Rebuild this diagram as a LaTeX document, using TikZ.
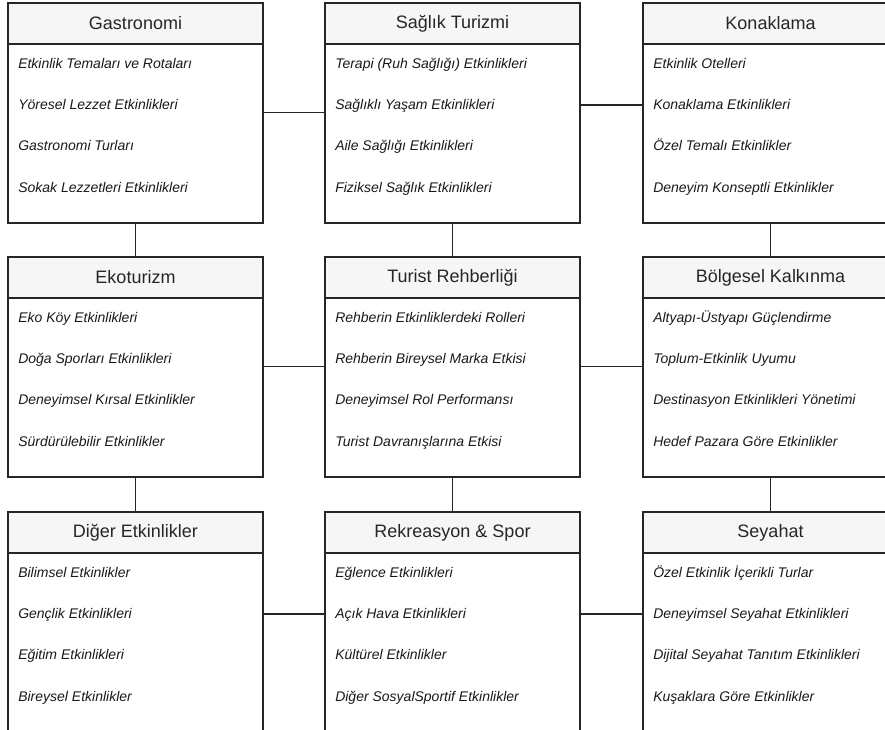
\documentclass[tikz,border=0pt]{standalone}
\usepackage{fontspec}
\setmainfont{Liberation Sans}
\usetikzlibrary{positioning,calc}

\begin{document}
\begin{tikzpicture}[x=0.75pt,y=-0.75pt]
  \tikzset{
    head/.style={draw=black!85, rectangle, fill=gray!7, outer sep=0pt, line width=1pt, minimum width=191.25pt, minimum height=30.75pt, font=\fontsize{13.5}{16}\selectfont, text=black!85},
    body/.style={draw=black!85, rectangle, outer sep=0pt, line width=1pt, minimum width=191.25pt, minimum height=134.25pt},
    item/.style={anchor=west, inner sep=0pt, text height=7.5pt, text depth=2pt, font=\fontsize{10.5}{12}\selectfont\itshape, text=black!90},
    line/.style={draw=black!85, line width=0.8pt},
  }
  \useasboundingbox (0,0) rectangle (885,729);

  % first row
  \node [head] (gas) at (135.5,23.5) {Gastronomi};
  \node [body, below=0pt of gas] (gasb) {};
  \foreach \txt [count=\i] in {Etkinlik Temaları ve Rotaları, Yöresel Lezzet Etkinlikleri, Gastronomi Turları, Sokak Lezzetleri Etkinlikleri}
    \node [item] (gas\i) at ($(gasb.north west)+(10,20.5+41.3*\i-41.3)$) {\txt};

  \node [head] (sag) at (452.5,23.5) {Sağlık Turizmi};
  \node [body, below=0pt of sag] (sagb) {};
  \foreach \txt [count=\i] in {Terapi (Ruh Sağlığı) Etkinlikleri, Sağlıklı Yaşam Etkinlikleri, Aile Sağlığı Etkinlikleri, Fiziksel Sağlık Etkinlikleri}
    \node [item] (sag\i) at ($(sagb.north west)+(10,20.5+41.3*\i-41.3)$) {\txt};

  \node [head] (kon) at (770.5,23.5) {Konaklama};
  \node [body, below=0pt of kon] (konb) {};
  \foreach \txt [count=\i] in {Etkinlik Otelleri, Konaklama Etkinlikleri, Özel Temalı Etkinlikler, Deneyim Konseptli Etkinlikler}
    \node [item] (kon\i) at ($(konb.north west)+(10,20.5+41.3*\i-41.3)$) {\txt};

  % second row
  \node [head] (eko) at (135.5,277.5) {Ekoturizm};
  \node [body, below=0pt of eko] (ekob) {};
  \foreach \txt [count=\i] in {Eko Köy Etkinlikleri, Doğa Sporları Etkinlikleri, Deneyimsel Kırsal Etkinlikler, Sürdürülebilir Etkinlikler}
    \node [item] (eko\i) at ($(ekob.north west)+(10,20.5+41.3*\i-41.3)$) {\txt};

  \node [head] (reh) at (452.5,277.5) {Turist Rehberliği};
  \node [body, below=0pt of reh] (rehb) {};
  \foreach \txt [count=\i] in {Rehberin Etkinliklerdeki Rolleri, Rehberin Bireysel Marka Etkisi, Deneyimsel Rol Performansı, Turist Davranışlarına Etkisi}
    \node [item] (reh\i) at ($(rehb.north west)+(10,20.5+41.3*\i-41.3)$) {\txt};

  \node [head] (bol) at (770.5,277.5) {Bölgesel Kalkınma};
  \node [body, below=0pt of bol] (bolb) {};
  \foreach \txt [count=\i] in {Altyapı-Üstyapı Güçlendirme, Toplum-Etkinlik Uyumu, Destinasyon Etkinlikleri Yönetimi, Hedef Pazara Göre Etkinlikler}
    \node [item] (bol\i) at ($(bolb.north west)+(10,20.5+41.3*\i-41.3)$) {\txt};

  % third row
  \node [head] (dig) at (135.5,532.5) {Diğer Etkinlikler};
  \node [body, below=0pt of dig] (digb) {};
  \foreach \txt [count=\i] in {Bilimsel Etkinlikler, Gençlik Etkinlikleri, Eğitim Etkinlikleri, Bireysel Etkinlikler}
    \node [item] (dig\i) at ($(digb.north west)+(10,20.5+41.3*\i-41.3)$) {\txt};

  \node [head] (rek) at (452.5,532.5) {Rekreasyon \& Spor};
  \node [body, below=0pt of rek] (rekb) {};
  \foreach \txt [count=\i] in {Eğlence Etkinlikleri, Açık Hava Etkinlikleri, Kültürel Etkinlikler, Diğer SosyalSportif Etkinlikler}
    \node [item] (rek\i) at ($(rekb.north west)+(10,20.5+41.3*\i-41.3)$) {\txt};

  \node [head] (sey) at (770.5,532.5) {Seyahat};
  \node [body, below=0pt of sey] (seyb) {};
  \foreach \txt [count=\i] in {Özel Etkinlik İçerikli Turlar, Deneyimsel Seyahat Etkinlikleri, Dijital Seyahat Tanıtım Etkinlikleri, Kuşaklara Göre Etkinlikler}
    \node [item] (sey\i) at ($(seyb.north west)+(10,20.5+41.3*\i-41.3)$) {\txt};

  % connectors
  \path [line] ([yshift=16pt]gasb.east) -- ([yshift=16pt]sagb.west);
  \path [line] ([yshift=21.4pt]sagb.east) -- ([yshift=21.4pt]konb.west);
  \path [line] ([yshift=15.75pt]ekob.east) -- ([yshift=15.75pt]rehb.west);
  \path [line] ([yshift=15.75pt]rehb.east) -- ([yshift=15.75pt]bolb.west);
  \path [line] ([yshift=21.4pt]digb.east) -- ([yshift=21.4pt]rekb.west);
  \path [line] ([yshift=21.4pt]rekb.east) -- ([yshift=21.4pt]seyb.west);
  \path [line] (gasb) -- (eko);
  \path [line] (sagb) -- (reh);
  \path [line] (konb) -- (bol);
  \path [line] (ekob) -- (dig);
  \path [line] (rehb) -- (rek);
  \path [line] (bolb) -- (sey);
\end{tikzpicture}
\end{document}
